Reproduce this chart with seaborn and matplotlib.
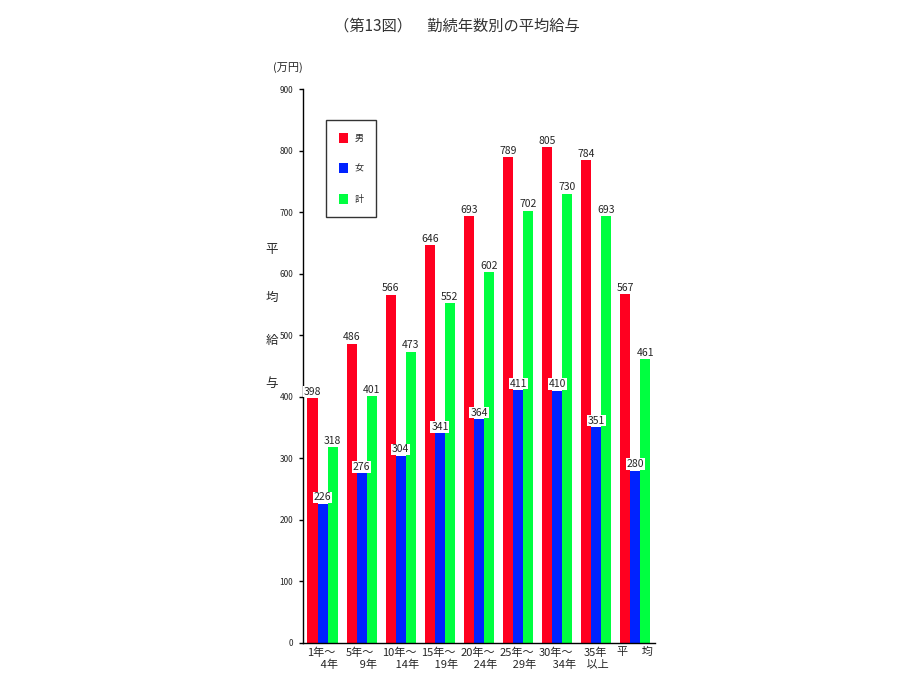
import matplotlib
matplotlib.use("Agg")
import matplotlib.pyplot as plt
import seaborn as sns
import pandas as pd

categories = ["1年～\n　 4年", "5年～\n　 9年", "10年～\n　 14年", "15年～\n　 19年",
              "20年～\n　 24年", "25年～\n　 29年", "30年～\n　 34年", "35年\n 以上", "平　 均"]
series_names = ["男", "女", "計"]
male = [398, 486, 566, 646, 693, 789, 805, 784, 567]
female = [226, 276, 304, 341, 364, 411, 410, 351, 280]
total = [318, 401, 473, 552, 602, 702, 730, 693, 461]
yticks = [0, 100, 200, 300, 400, 500, 600, 700, 800, 900]
colors = ["#FF0020", "#0022FF", "#00FF40"]

sns.set_theme(style="white")
plt.rcParams['font.family'] = ['Noto Sans CJK JP', 'DejaVu Sans']

rows = []
for name, vals in zip(series_names, [male, female, total]):
    for c, v in zip(categories, vals):
        rows.append({"cat": c, "series": name, "value": v})
df = pd.DataFrame(rows)

fig = plt.figure(figsize=(9.14, 6.91), dpi=100)
ax = fig.add_axes([0.3315, 0.0695, 0.3851, 0.8017])

sns.barplot(data=df, x="cat", y="value", hue="series", order=categories,
            hue_order=series_names, palette=colors, width=0.77, saturation=1,
            ax=ax, errorbar=None, linewidth=0)

for cont in ax.containers:
    ax.bar_label(cont, fmt="%d", fontsize=7.5, padding=1,
                 bbox=dict(facecolor="white", edgecolor="none", pad=0.6))

ax.set_ylim(0, 900)
ax.set_xlim(-0.5, 8.5)
ax.set_yticks(yticks)
ax.set_yticklabels([str(t) for t in yticks], fontsize=6)
ax.tick_params(axis="y", direction="out", length=3, width=1, color="black", pad=4, left=True)
ax.tick_params(axis="x", length=0, pad=3, labelsize=8)
for lab in ax.get_xticklabels():
    lab.set_multialignment("left")
ax.set_xlabel("")
ax.set_ylabel("")
sns.despine(ax=ax)
for s in ["left", "bottom"]:
    ax.spines[s].set_color("black")
    ax.spines[s].set_linewidth(1)

leg = ax.legend(loc="upper left", bbox_to_anchor=(0.065, 0.944), frameon=True,
                fancybox=False, fontsize=6.5, labelspacing=2.3, handlelength=1.0,
                handleheight=1.3, handletextpad=0.8, borderpad=1.4, borderaxespad=0)
leg.get_frame().set_edgecolor("black")
leg.get_frame().set_linewidth(1)

fig.text(0.5, 0.962, "（第13図）　勤続年数別の平均給与", ha="center", va="center",
         fontsize=11, color="#333333")
fig.text(0.315, 0.902, "(万円)", ha="center", va="center", fontsize=8)
for ch, yy in zip("平均給与", [250, 297, 340, 383]):
    fig.text(272 / 914, 1 - yy / 691, ch, ha="center", va="center", fontsize=9)

fig.savefig("out.png", dpi=100, facecolor="white")
